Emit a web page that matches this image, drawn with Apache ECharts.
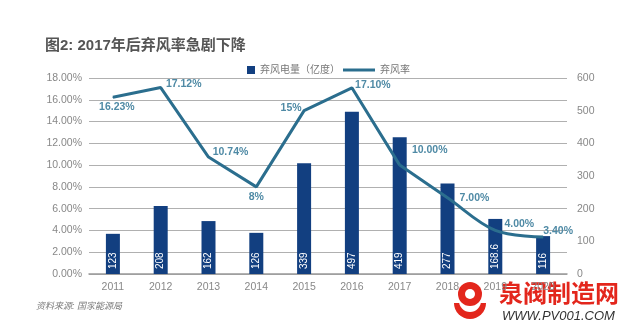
<!DOCTYPE html>
<html>
<head>
<meta charset="utf-8">
<script src="https://cdn.jsdelivr.net/npm/echarts@6/dist/echarts.min.js"></script>
<style>
  html, body { margin: 0; padding: 0; background: #fff; }
  #chart { width: 636px; height: 335px; }
</style>
</head>
<body>
<div id="chart"></div>
<script>
// Wind curtailment 2011-2020: curtailed energy (亿度) and curtailment rate (%)
const years = ['2011', '2012', '2013', '2014', '2015', '2016', '2017', '2018', '2019', '2020'];
const curtailedEnergy = [123, 208, 162, 126, 339, 497, 419, 277, 168.6, 116];
const curtailRate = [16.23, 17.12, 10.74, 8, 15, 17.10, 10.00, 7.00, 4.00, 3.40];
const rateLabels = ['16.23%', '17.12%', '10.74%', '8%', '15%', '17.10%', '10.00%', '7.00%', '4.00%', '3.40%'];
// label centre offset from each point
const rateLabelOffsets = [[4, 10], [23, -3], [22, -5], [0, 10], [-13, -3], [21, -3], [30, -15], [27, 0], [24, -6], [15, -6]];

const FONT = '"Liberation Sans", "Noto Sans CJK SC", sans-serif';
const BAR_COLOR = '#123f80';
const LINE_COLOR = '#2b6e8e';
const LABEL_COLOR = '#4f8aa5';

// Straight segments up to 2017, gentle curve afterwards
const splitIdx = 6;
function rateItem(i) {
  return {
    value: curtailRate[i],
    label: {
      show: true,
      position: 'inside',
      offset: rateLabelOffsets[i],
      formatter: rateLabels[i],
      color: LABEL_COLOR,
      fontSize: 10.5,
      fontWeight: 'bold',
      fontFamily: FONT
    }
  };
}
const rateHead = curtailRate.map((v, i) => (i <= splitIdx ? rateItem(i) : '-'));
const rateTail = curtailRate.map((v, i) => (i > splitIdx ? rateItem(i) : (i === splitIdx ? v : '-')));

const chart = echarts.init(document.getElementById('chart'), null, { renderer: 'canvas' });
chart.setOption({
  animation: false,
  backgroundColor: '#fff',
  textStyle: { fontFamily: FONT },
  title: {
    text: '图2: 2017年后弃风率急剧下降',
    left: 40,
    top: 33,
    textStyle: { fontSize: 15, fontWeight: 'bold', color: '#555', fontFamily: FONT }
  },
  legend: [
    {
      data: [{ name: '弃风电量（亿度）', icon: 'rect' }],
      left: 242, top: 60,
      itemWidth: 8, itemHeight: 8, itemGap: 4,
      textStyle: { fontSize: 10, color: '#777', fontFamily: FONT }
    },
    {
      data: [{ name: '弃风率', icon: 'rect' }],
      left: 338, top: 60,
      itemWidth: 32, itemHeight: 3, itemGap: 4,
      textStyle: { fontSize: 10, color: '#777', fontFamily: FONT }
    }
  ],
  grid: { left: 89, right: 69, top: 78, bottom: 61 },
  xAxis: {
    type: 'category',
    data: years,
    axisLine: { lineStyle: { color: '#999', width: 1.5 } },
    axisTick: { show: false },
    axisLabel: { color: '#888', fontSize: 10.5, margin: 8, fontFamily: FONT }
  },
  yAxis: [
    {
      type: 'value',
      min: 0, max: 18, interval: 2,
      axisLine: { show: false },
      axisTick: { show: false },
      axisLabel: {
        color: '#888', fontSize: 10.5, margin: 7, fontFamily: FONT,
        formatter: v => v.toFixed(2) + '%'
      },
      splitLine: { lineStyle: { color: '#b0b0b0', width: 1.2 } }
    },
    {
      type: 'value',
      min: 0, max: 600, interval: 100,
      axisLine: { show: false },
      axisTick: { show: false },
      axisLabel: { color: '#888', fontSize: 10.5, margin: 10, fontFamily: FONT },
      splitLine: { show: false }
    }
  ],
  series: [
    {
      name: '弃风电量（亿度）',
      type: 'bar',
      yAxisIndex: 1,
      data: curtailedEnergy,
      barWidth: 14,
      itemStyle: { color: BAR_COLOR },
      z: 2,
      label: {
        show: true,
        position: 'insideBottom',
        rotate: 90,
        align: 'left',
        verticalAlign: 'middle',
        distance: 5,
        color: '#fff',
        fontSize: 10,
        fontFamily: FONT
      }
    },
    {
      name: '弃风率',
      type: 'line',
      yAxisIndex: 0,
      data: rateHead,
      symbol: 'circle',
      symbolSize: 1,
      showSymbol: true,
      itemStyle: { color: LINE_COLOR },
      lineStyle: { color: LINE_COLOR, width: 3 },
      z: 5
    },
    {
      name: '弃风率',
      type: 'line',
      yAxisIndex: 0,
      data: rateTail,
      smooth: 0.35,
      symbol: 'circle',
      symbolSize: 1,
      showSymbol: true,
      itemStyle: { color: LINE_COLOR },
      lineStyle: { color: LINE_COLOR, width: 3 },
      z: 5
    }
  ],
  graphic: [
    {
      type: 'text',
      x: 36, y: 302,
      style: {
        text: '资料来源: 国家能源局',
        fill: '#7a7a7a',
        fontSize: 9,
        fontStyle: 'italic',
        fontFamily: FONT
      }
    },
    // site mark in the lower right corner
    {
      type: 'group',
      x: 453, y: 281,
      z: 100,
      children: [
        { type: 'sector', shape: { cx: 17, cy: 22, r: 16, r0: 0, startAngle: 0, endAngle: Math.PI }, style: { fill: '#e3261c' } },
        { type: 'sector', shape: { cx: 17, cy: 20, r: 11, r0: 0, startAngle: 0, endAngle: Math.PI }, style: { fill: '#fff' } },
        { type: 'circle', shape: { cx: 17, cy: 13, r: 12 }, style: { fill: '#e3261c' } },
        { type: 'circle', shape: { cx: 17, cy: 13, r: 5 }, style: { fill: '#fff' } },
        {
          type: 'text', x: 46, y: 0,
          style: { text: '泉阀制造网', fill: '#e3261c', fontSize: 24, fontWeight: 'bold', fontFamily: '"Noto Sans CJK SC", sans-serif' }
        },
        {
          type: 'text', x: 49, y: 29,
          style: { text: 'WWW.PV001.COM', fill: '#333', fontSize: 13, fontStyle: 'italic', fontFamily: FONT }
        }
      ]
    }
  ]
});
</script>
</body>
</html>
